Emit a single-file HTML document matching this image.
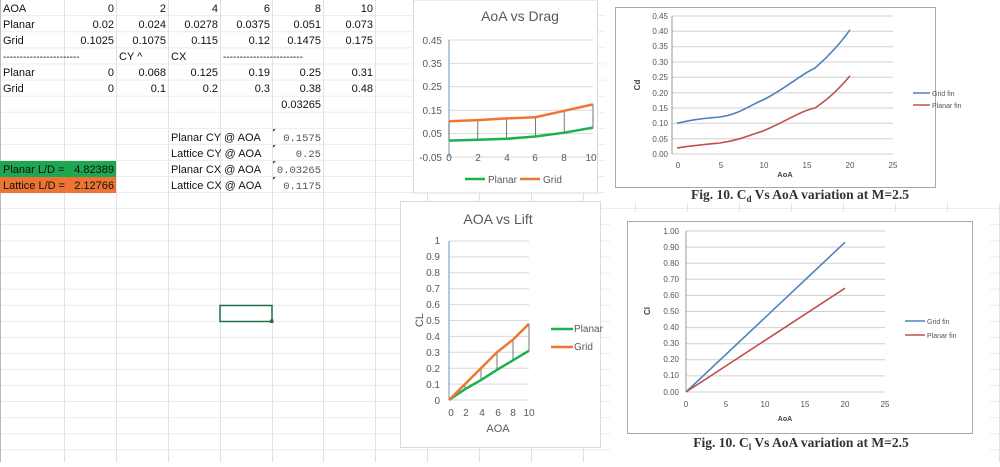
<!DOCTYPE html>
<html><head><meta charset="utf-8"><style>
body{margin:0;width:1000px;height:462px;overflow:hidden;background:#fff;font-family:"Liberation Sans",sans-serif}
svg text{font-family:"Liberation Sans",sans-serif}
</style></head><body>
<svg width="1000" height="462" viewBox="0 0 1000 462" xmlns="http://www.w3.org/2000/svg">
<defs>
<pattern id="rows" x="0" y="0" width="1000" height="16.08" patternUnits="userSpaceOnUse">
<rect x="0" y="15.4" width="1000" height="0.9" fill="#e2e2e2"/>
</pattern>
</defs>
<rect width="1000" height="462" fill="#fff"/>
<rect width="1000" height="462" fill="url(#rows)"/>
<g stroke="#e2e2e2" stroke-width="1">
<line x1="64.5" y1="0" x2="64.5" y2="462"/><line x1="116.5" y1="0" x2="116.5" y2="462"/>
<line x1="168.5" y1="0" x2="168.5" y2="462"/><line x1="220.5" y1="0" x2="220.5" y2="462"/>
<line x1="272.5" y1="0" x2="272.5" y2="462"/><line x1="323.5" y1="0" x2="323.5" y2="462"/>
<line x1="375.5" y1="0" x2="375.5" y2="462"/><line x1="427.5" y1="0" x2="427.5" y2="462"/>
<line x1="479.5" y1="0" x2="479.5" y2="462"/><line x1="531.5" y1="0" x2="531.5" y2="462"/>
<line x1="583.5" y1="0" x2="583.5" y2="462"/><line x1="635.5" y1="0" x2="635.5" y2="462"/>
<line x1="687.5" y1="0" x2="687.5" y2="462"/><line x1="739.5" y1="0" x2="739.5" y2="462"/>
<line x1="791.5" y1="0" x2="791.5" y2="462"/><line x1="843.5" y1="0" x2="843.5" y2="462"/>
<line x1="895.5" y1="0" x2="895.5" y2="462"/><line x1="947.5" y1="0" x2="947.5" y2="462"/>
<line x1="999.5" y1="0" x2="999.5" y2="462"/>
</g>
<line x1="0.5" y1="0" x2="0.5" y2="462" stroke="#bbb"/>
<!-- spreadsheet cells -->
<rect x="0" y="161" width="116" height="16" fill="#1ea650"/>
<rect x="0" y="177" width="116" height="16" fill="#ec7434"/>
<g font-size="11" fill="#111">
<text x="3" y="12">AOA</text><text x="3" y="28">Planar</text><text x="3" y="44">Grid</text>
<text x="3" y="60" font-size="10">-----------------------</text>
<text x="119" y="60">CY ^</text><text x="171" y="60">CX</text>
<text x="223" y="60" font-size="10">------------------------</text>
<text x="3" y="76">Planar</text><text x="3" y="92">Grid</text>
<g text-anchor="end">
<text x="114" y="12">0</text><text x="166" y="12">2</text><text x="218" y="12">4</text><text x="270" y="12">6</text><text x="321" y="12">8</text><text x="373" y="12">10</text>
<text x="114" y="28">0.02</text><text x="166" y="28">0.024</text><text x="218" y="28">0.0278</text><text x="270" y="28">0.0375</text><text x="321" y="28">0.051</text><text x="373" y="28">0.073</text>
<text x="114" y="44">0.1025</text><text x="166" y="44">0.1075</text><text x="218" y="44">0.115</text><text x="270" y="44">0.12</text><text x="321" y="44">0.1475</text><text x="373" y="44">0.175</text>
<text x="114" y="76">0</text><text x="166" y="76">0.068</text><text x="218" y="76">0.125</text><text x="270" y="76">0.19</text><text x="321" y="76">0.25</text><text x="373" y="76">0.31</text>
<text x="114" y="92">0</text><text x="166" y="92">0.1</text><text x="218" y="92">0.2</text><text x="270" y="92">0.3</text><text x="321" y="92">0.38</text><text x="373" y="92">0.48</text>
<text x="321" y="108">0.03265</text>
<text x="114" y="173">4.82389</text><text x="114" y="189">2.12766</text>
</g>
<text x="3" y="173">Planar L/D =</text><text x="3" y="189">Lattice L/D =</text>
<text x="171" y="141">Planar CY @ AOA</text><text x="171" y="157">Lattice CY @ AOA</text>
<text x="171" y="173">Planar CX @ AOA</text><text x="171" y="189">Lattice CX @ AOA</text>
</g>
<g font-size="10.5" fill="#555" text-anchor="end">
<text x="321" y="141" style="font-family:'Liberation Mono',monospace">0.1575</text>
<text x="321" y="157" style="font-family:'Liberation Mono',monospace">0.25</text>
<text x="321" y="173" style="font-family:'Liberation Mono',monospace">0.03265</text>
<text x="321" y="189" style="font-family:'Liberation Mono',monospace">0.1175</text>
</g>
<g fill="#1e7a3c"><path d="M273 129h3l-3 3z"/><path d="M273 145h3l-3 3z"/><path d="M273 161h3l-3 3z"/><path d="M273 177h3l-3 3z"/></g>
<rect x="220" y="305.5" width="52" height="16" fill="none" stroke="#217346" stroke-width="1.5"/>
<rect x="270" y="319.5" width="3.5" height="3.5" fill="#217346"/>

<!-- Drag chart -->
<rect x="413.5" y="0" width="184" height="193" fill="#fff" stroke="#d9d9d9"/>
<text x="520" y="21" font-size="14" fill="#595959" text-anchor="middle">AoA vs Drag</text>
<g stroke="#d9d9d9"><line x1="449" y1="40" x2="593" y2="40"/><line x1="449" y1="63.4" x2="593" y2="63.4"/><line x1="449" y1="86.8" x2="593" y2="86.8"/><line x1="449" y1="110.2" x2="593" y2="110.2"/><line x1="449" y1="133.6" x2="593" y2="133.6"/><line x1="449" y1="157" x2="593" y2="157"/></g>
<line x1="449" y1="40" x2="449" y2="157" stroke="#6f96b5"/>
<g font-size="10" fill="#595959" text-anchor="end"><text x="442" y="44">0.45</text><text x="442" y="67">0.35</text><text x="442" y="90">0.25</text><text x="442" y="114">0.15</text><text x="442" y="137">0.05</text><text x="442" y="161">-0.05</text></g>
<g font-size="10" fill="#595959" text-anchor="middle"><text x="449" y="161">0</text><text x="478" y="161">2</text><text x="507" y="161">4</text><text x="535" y="161">6</text><text x="564" y="161">8</text><text x="591" y="161">10</text></g>
<g stroke="#555" stroke-width="0.8"><line x1="449" y1="140.6" x2="449" y2="121.3"/><line x1="477.8" y1="139.7" x2="477.8" y2="120.1"/><line x1="506.6" y1="138.8" x2="506.6" y2="118.4"/><line x1="535.4" y1="136.5" x2="535.4" y2="117.2"/><line x1="564.2" y1="132.7" x2="564.2" y2="110.8"/><line x1="593" y1="127.6" x2="593" y2="104.4"/></g>
<polyline points="449,140.6 477.8,139.7 506.6,138.8 535.4,136.5 564.2,132.7 593,127.6" fill="none" stroke="#1eb050" stroke-width="2.5"/>
<polyline points="449,121.3 477.8,120.1 506.6,118.4 535.4,117.2 564.2,110.8 593,104.4" fill="none" stroke="#ee7633" stroke-width="2.5"/>
<line x1="465" y1="179" x2="485" y2="179" stroke="#1eb050" stroke-width="2.5"/><text x="488" y="183" font-size="10" fill="#595959">Planar</text>
<line x1="520" y1="179" x2="540" y2="179" stroke="#ee7633" stroke-width="2.5"/><text x="543" y="183" font-size="10" fill="#595959">Grid</text>

<!-- Lift chart -->
<rect x="400.5" y="201.5" width="200" height="246" fill="#fff" stroke="#d9d9d9"/>
<text x="498" y="224" font-size="14" fill="#595959" text-anchor="middle">AOA vs Lift</text>
<g stroke="#d9d9d9"><line x1="449" y1="241" x2="529" y2="241"/><line x1="449" y1="256.9" x2="529" y2="256.9"/><line x1="449" y1="272.8" x2="529" y2="272.8"/><line x1="449" y1="288.7" x2="529" y2="288.7"/><line x1="449" y1="304.6" x2="529" y2="304.6"/><line x1="449" y1="320.5" x2="529" y2="320.5"/><line x1="449" y1="336.4" x2="529" y2="336.4"/><line x1="449" y1="352.3" x2="529" y2="352.3"/><line x1="449" y1="368.2" x2="529" y2="368.2"/><line x1="449" y1="384.1" x2="529" y2="384.1"/><line x1="449" y1="400" x2="529" y2="400"/></g>
<line x1="449" y1="241" x2="449" y2="400" stroke="#6f96b5"/>
<g font-size="10" fill="#595959" text-anchor="end"><text x="440" y="244">1</text><text x="440" y="260">0.9</text><text x="440" y="276">0.8</text><text x="440" y="292">0.7</text><text x="440" y="308">0.6</text><text x="440" y="324">0.5</text><text x="440" y="340">0.4</text><text x="440" y="356">0.3</text><text x="440" y="372">0.2</text><text x="440" y="388">0.1</text><text x="440" y="404">0</text></g>
<g font-size="10" fill="#595959" text-anchor="middle"><text x="451" y="416">0</text><text x="466" y="416">2</text><text x="482" y="416">4</text><text x="498" y="416">6</text><text x="513" y="416">8</text><text x="529" y="416">10</text></g>
<text x="498" y="432" font-size="11" fill="#595959" text-anchor="middle">AOA</text>
<text transform="translate(423,320) rotate(-90)" font-size="11" fill="#595959" text-anchor="middle">CL</text>
<g stroke="#555" stroke-width="0.8"><line x1="465" y1="389.2" x2="465" y2="384.1"/><line x1="481" y1="380.1" x2="481" y2="368.2"/><line x1="497" y1="369.8" x2="497" y2="352.3"/><line x1="513" y1="360.3" x2="513" y2="339.6"/><line x1="529" y1="350.7" x2="529" y2="323.7"/></g>
<polyline points="449,400 465,389.2 481,380.1 497,369.8 513,360.3 529,350.7" fill="none" stroke="#1eb050" stroke-width="2.5"/>
<polyline points="449,400 465,384.1 481,368.2 497,352.3 513,339.6 529,323.7" fill="none" stroke="#ee7633" stroke-width="2.5"/>
<line x1="551" y1="329" x2="573" y2="329" stroke="#1eb050" stroke-width="2.5"/><text x="574" y="332" font-size="10" fill="#595959">Planar</text>
<line x1="551" y1="347" x2="573" y2="347" stroke="#ee7633" stroke-width="2.5"/><text x="574" y="350" font-size="10" fill="#595959">Grid</text>

<!-- Cd image -->
<rect x="605" y="0" width="395" height="203" fill="#fff"/>
<rect x="615.5" y="7.5" width="320" height="180" fill="#fff" stroke="#a8a8a8"/>
<g stroke="#d0d0d0"><line x1="672" y1="16" x2="893" y2="16"/><line x1="672" y1="31.3" x2="893" y2="31.3"/><line x1="672" y1="46.7" x2="893" y2="46.7"/><line x1="672" y1="62" x2="893" y2="62"/><line x1="672" y1="77.3" x2="893" y2="77.3"/><line x1="672" y1="92.7" x2="893" y2="92.7"/><line x1="672" y1="108" x2="893" y2="108"/><line x1="672" y1="123.3" x2="893" y2="123.3"/><line x1="672" y1="138.7" x2="893" y2="138.7"/><line x1="672" y1="154" x2="893" y2="154"/></g>
<line x1="672" y1="16" x2="672" y2="154" stroke="#999"/>
<g font-size="8" fill="#555" text-anchor="end"><text x="668" y="19">0.45</text><text x="668" y="34">0.40</text><text x="668" y="49">0.35</text><text x="668" y="65">0.30</text><text x="668" y="80">0.25</text><text x="668" y="96">0.20</text><text x="668" y="111">0.15</text><text x="668" y="126">0.10</text><text x="668" y="142">0.05</text><text x="668" y="157">0.00</text></g>
<g font-size="8" fill="#555" text-anchor="middle"><text x="678" y="168">0</text><text x="721" y="168">5</text><text x="764" y="168">10</text><text x="807" y="168">15</text><text x="850" y="168">20</text><text x="893" y="168">25</text></g>
<text x="785" y="177" font-size="7.5" font-weight="bold" fill="#444" text-anchor="middle">AoA</text>
<text transform="translate(640,85) rotate(-90)" font-size="8" font-weight="bold" fill="#444" text-anchor="middle">Cd</text>
<path d="M677,123.3 C698,118 710,118 720,117 C740,114 750,105 763,100 C785,89 800,75 815,68 C830,55 840,44 850,29.8" fill="none" stroke="#4f81bd" stroke-width="1.6"/>
<path d="M677,147.9 C698,145 710,144 720,143 C740,140 750,135 763,131 C785,122 800,111 815,108 C830,98 840,88 850,75.8" fill="none" stroke="#c0504d" stroke-width="1.6"/>
<line x1="913" y1="93" x2="930" y2="93" stroke="#4f81bd" stroke-width="1.5"/><text x="932" y="96" font-size="7" fill="#555">Grid fin</text>
<line x1="913" y1="105" x2="930" y2="105" stroke="#c0504d" stroke-width="1.5"/><text x="932" y="108" font-size="7" fill="#555">Planar fin</text>
<text x="800" y="199" font-size="13.5" font-weight="bold" fill="#333" text-anchor="middle" style="font-family:'Liberation Serif',serif">Fig. 10. C<tspan font-size="9" dy="3">d</tspan><tspan dy="-3"> Vs AoA variation at M=2.5</tspan></text>

<!-- Cl image -->
<rect x="610" y="212" width="380" height="250" fill="#fff"/>
<rect x="627.5" y="221.5" width="345" height="212" fill="#fff" stroke="#a8a8a8"/>
<g stroke="#d0d0d0"><line x1="686" y1="231" x2="885" y2="231"/><line x1="686" y1="247.1" x2="885" y2="247.1"/><line x1="686" y1="263.2" x2="885" y2="263.2"/><line x1="686" y1="279.3" x2="885" y2="279.3"/><line x1="686" y1="295.4" x2="885" y2="295.4"/><line x1="686" y1="311.5" x2="885" y2="311.5"/><line x1="686" y1="327.6" x2="885" y2="327.6"/><line x1="686" y1="343.7" x2="885" y2="343.7"/><line x1="686" y1="359.8" x2="885" y2="359.8"/><line x1="686" y1="375.9" x2="885" y2="375.9"/><line x1="686" y1="392" x2="885" y2="392"/></g>
<line x1="686" y1="231" x2="686" y2="392" stroke="#999"/>
<g font-size="8" fill="#555" text-anchor="end"><text x="679" y="234">1.00</text><text x="679" y="250">0.90</text><text x="679" y="266">0.80</text><text x="679" y="282">0.70</text><text x="679" y="298">0.60</text><text x="679" y="314">0.50</text><text x="679" y="330">0.40</text><text x="679" y="346">0.30</text><text x="679" y="362">0.20</text><text x="679" y="378">0.10</text><text x="679" y="395">0.00</text></g>
<g font-size="8" fill="#555" text-anchor="middle"><text x="686" y="407">0</text><text x="726" y="407">5</text><text x="765" y="407">10</text><text x="805" y="407">15</text><text x="845" y="407">20</text><text x="885" y="407">25</text></g>
<text x="785" y="421" font-size="7" font-weight="bold" fill="#444" text-anchor="middle">AoA</text>
<text transform="translate(650,311) rotate(-90)" font-size="8" font-weight="bold" fill="#444" text-anchor="middle">Cl</text>
<line x1="686" y1="392" x2="845" y2="242.3" stroke="#4f81bd" stroke-width="1.6"/>
<line x1="686" y1="392" x2="845" y2="288.2" stroke="#c0504d" stroke-width="1.6"/>
<line x1="905" y1="321" x2="925" y2="321" stroke="#4f81bd" stroke-width="1.5"/><text x="927" y="324" font-size="7" fill="#555">Grid fin</text>
<line x1="905" y1="335" x2="925" y2="335" stroke="#c0504d" stroke-width="1.5"/><text x="927" y="338" font-size="7" fill="#555">Planar fin</text>
<text x="801" y="447" font-size="13.5" font-weight="bold" fill="#333" text-anchor="middle" style="font-family:'Liberation Serif',serif">Fig. 10. C<tspan font-size="9" dy="3">l</tspan><tspan dy="-3"> Vs AoA variation at M=2.5</tspan></text>
</svg>
</body></html>
